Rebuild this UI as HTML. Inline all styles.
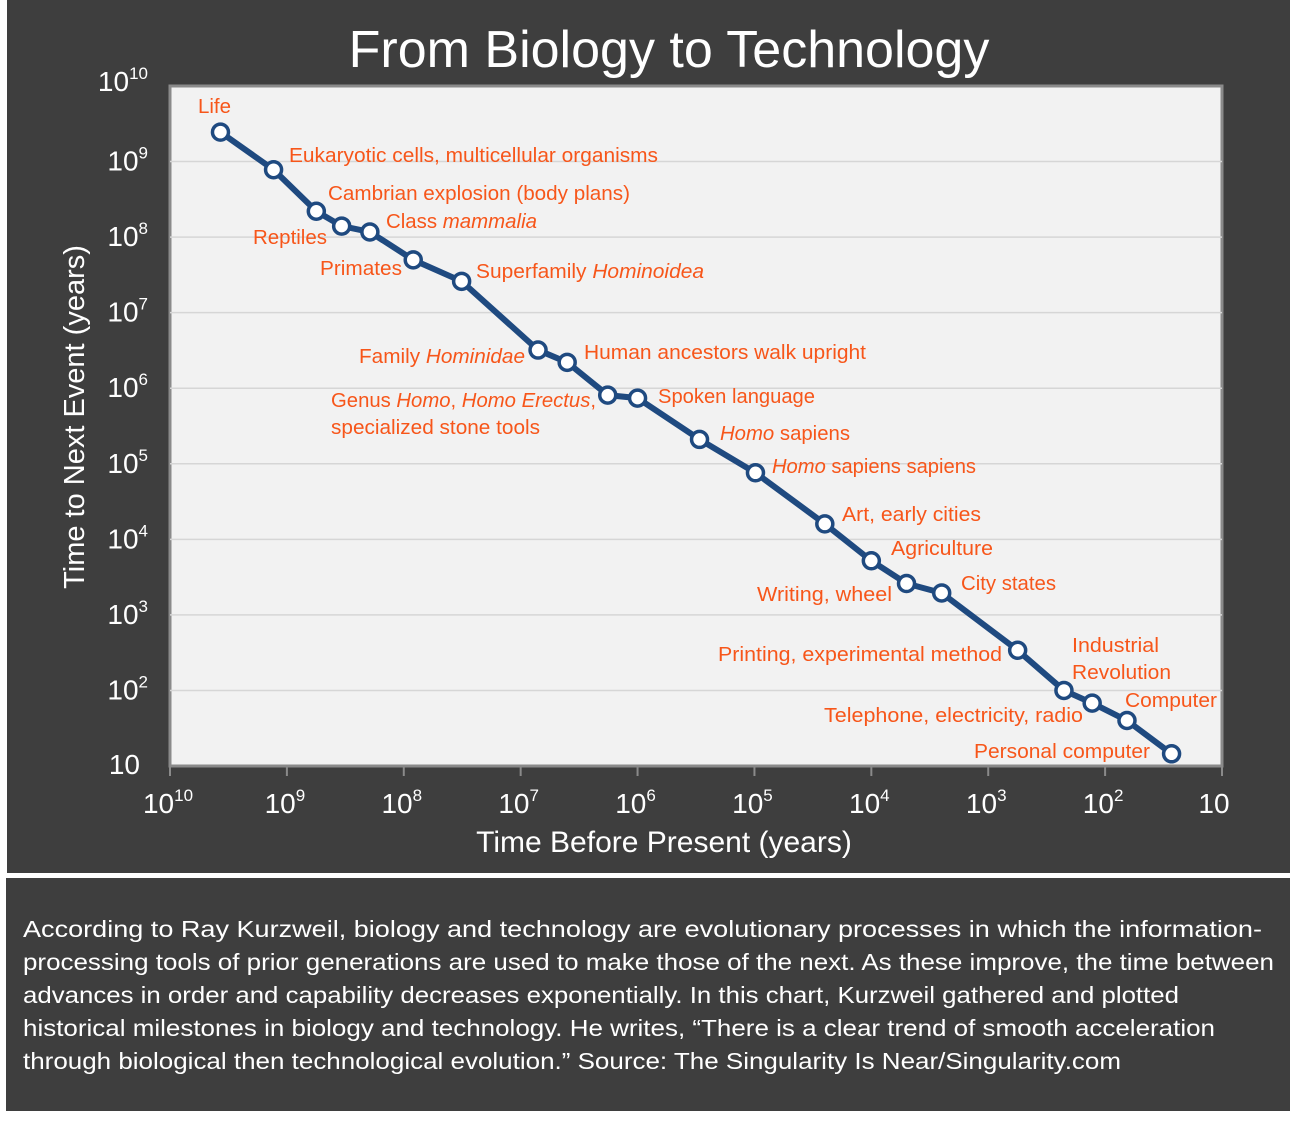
<!DOCTYPE html>
<html><head><meta charset="utf-8"><style>
html,body{margin:0;padding:0;background:#fff;}
svg{display:block;font-family:"Liberation Sans",sans-serif;}
</style></head><body>
<svg id="chart" width="1298" height="1129" viewBox="0 0 1298 1129" xmlns="http://www.w3.org/2000/svg">
<rect x="7" y="0" width="1283" height="873" fill="#3e3e3e"/>
<text x="669" y="67" font-size="52" fill="#fff" text-anchor="middle">From Biology to Technology</text>
<rect x="170" y="86" width="1052" height="680" fill="#f2f2f2" stroke="#8a8a8a" stroke-width="3"/>
<g id="grid"></g>
<g id="yticks"></g>
<g id="xticks"></g>
<text transform="translate(84,417) rotate(-90)" font-size="29" fill="#fff" text-anchor="middle">Time to Next Event (years)</text>
<text x="664" y="852" font-size="30" fill="#fff" text-anchor="middle">Time Before Present (years)</text>
<g id="series"></g>
<g id="labels" font-size="20" fill="#f7561a"></g>
<rect x="6" y="878" width="1284" height="233" fill="#3e3e3e"/>
<g font-size="23" fill="#fff">
<text x="23" y="937" textLength="1239" lengthAdjust="spacingAndGlyphs">According to Ray Kurzweil, biology and technology are evolutionary processes in which the information-</text>
<text x="23" y="970" textLength="1251" lengthAdjust="spacingAndGlyphs">processing tools of prior generations are used to make those of the next. As these improve, the time between</text>
<text x="23" y="1003" textLength="1156" lengthAdjust="spacingAndGlyphs">advances in order and capability decreases exponentially. In this chart, Kurzweil gathered and plotted</text>
<text x="23" y="1036" textLength="1192" lengthAdjust="spacingAndGlyphs">historical milestones in biology and technology. He writes, “There is a clear trend of smooth acceleration</text>
<text x="23" y="1069" textLength="1098" lengthAdjust="spacingAndGlyphs">through biological then technological evolution.” Source: The Singularity Is Near/Singularity.com</text>
</g>
</svg>
<script>
const milestoneNames = ["Life","Eukaryotic cells","Cambrian explosion","Reptiles","Class mammalia","Primates","Superfamily Hominoidea","Family Hominidae","Human ancestors walk upright","Genus Homo","Spoken language","Homo sapiens","Homo sapiens sapiens","Art, early cities","Agriculture","Writing, wheel","City states","Printing","Industrial Revolution","Telephone","Computer","Personal computer"];
const yearsBeforePresent = [3.7e9,1.3e9,5.6e8,3.4e8,1.95e8,8.3e7,3.2e7,7.1e6,4.0e6,1.8e6,1.0e6,2.95e5,9.8e4,2.5e4,1.0e4,5.0e3,2.5e3,560,225,129,65,27];
const yearsToNext = [2.45e9,7.8e8,2.2e8,1.4e8,1.17e8,5.0e7,2.6e7,3.2e6,2.2e6,8.1e5,7.4e5,2.1e5,7.6e4,1.6e4,5.2e3,2.6e3,1.95e3,340,100,68,40,14.5];
const yExponents = [10,9,8,7,6,5,4,3,2,1];
const xExponents = [10,9,8,7,6,5,4,3,2,1];

const NS="http://www.w3.org/2000/svg";
const X0=170,X1=1222,Y0=86,Y1=766;
function xs(v){return X0+(10-Math.log10(v))*(X1-X0)/9;}
function ys(v){return Y0+(10-Math.log10(v))*(Y1-Y0)/9;}
function mk(t,a,p){const e=document.createElementNS(NS,t);for(const k in a)e.setAttribute(k,a[k]);p.appendChild(e);return e;}
const grid=document.getElementById('grid'),yt=document.getElementById('yticks'),xt=document.getElementById('xticks');
yExponents.forEach(ex=>{
  const y=ys(Math.pow(10,ex));
  if(ex<10&&ex>1){const l=mk('line',{x1:X0,x2:X1,y1:y,y2:y,stroke:'#d6d6d6','stroke-width':1.5},grid);
  
  }
  const t=mk('text',{x:ex==1?140:148,y:y+9-(ex==10?4:0)-(ex==1?1:0),'font-size':28,fill:'#fff','text-anchor':'end'},yt);
  
  
  t.textContent='10';
  if(ex>1){const s=mk('tspan',{'font-size':17,dy:-12},t);s.textContent=ex;}
});
xExponents.forEach(ex=>{
  const x=xs(Math.pow(10,ex));
  const l=mk('line',{x1:x,x2:x,y1:Y1,y2:Y1+10,stroke:'#8a8a8a','stroke-width':2},xt);
  
  
  const t=mk('text',{x:ex==1?x-8:x-2,y:813,'font-size':28,fill:'#fff','text-anchor':'middle'},xt);
  
  
  t.textContent='10';
  if(ex>1){const s=mk('tspan',{'font-size':17,dy:-12},t);s.textContent=ex;}
});
const ser=document.getElementById('series');
const pts=yearsBeforePresent.map((v,i)=>xs(v)+','+ys(yearsToNext[i])).join(' ');
const pl=mk('polyline',{points:pts,fill:'none',stroke:'#1f4a80','stroke-width':6,'stroke-linejoin':'round'},ser);


yearsBeforePresent.forEach((v,i)=>{
  const c=mk('circle',{cx:xs(v),cy:ys(yearsToNext[i]),r:8,fill:'#fff',stroke:'#1f4a80','stroke-width':3.5},ser);
  
  
});
const labs=[
 [198,113,'start',['Life'],33],
 [289,162,'start',['Eukaryotic cells, multicellular organisms'],369],
 [328,200,'start',['Cambrian explosion (body plans)'],302],
 [253,244,'start',['Reptiles'],74],
 [386,228,'start',['Class ',['mammalia']],151],
 [320,275,'start',['Primates'],82],
 [476,278,'start',['Superfamily ',['Hominoidea']],228],
 [525,363,'end',['Family ',['Hominidae']],166],
 [584,359,'start',['Human ancestors walk upright'],282],
 [331,407,'start',['Genus ',['Homo'],', ',['Homo Erectus'],','],265],
 [331,434,'start',['specialized stone tools'],209],
 [658,403,'start',['Spoken language'],157],
 [720,440,'start',[['Homo'],' sapiens'],130],
 [772,473,'start',[['Homo'],' sapiens sapiens'],204],
 [842,521,'start',['Art, early cities'],139],
 [891,555,'start',['Agriculture'],102],
 [892,601,'end',['Writing, wheel'],135],
 [961,590,'start',['City states'],95],
 [1002,661,'end',['Printing, experimental method'],284],
 [1072,652,'start',['Industrial'],87],
 [1072,679,'start',['Revolution'],99],
 [1125,707,'start',['Computer'],92],
 [1083,722,'end',['Telephone, electricity, radio'],259],
 [1150,758,'end',['Personal computer'],176]
];
const lg=document.getElementById('labels');
labs.forEach(L=>{
  const t=mk('text',{x:L[0],y:L[1],'text-anchor':L[2],textLength:L[4],lengthAdjust:'spacingAndGlyphs'},lg);
  
  
  L[3].forEach(p=>{const s=mk('tspan',{},t);if(Array.isArray(p)){s.setAttribute('font-style','italic');s.textContent=p[0];}else s.textContent=p;});
});
</script>
</body></html>
